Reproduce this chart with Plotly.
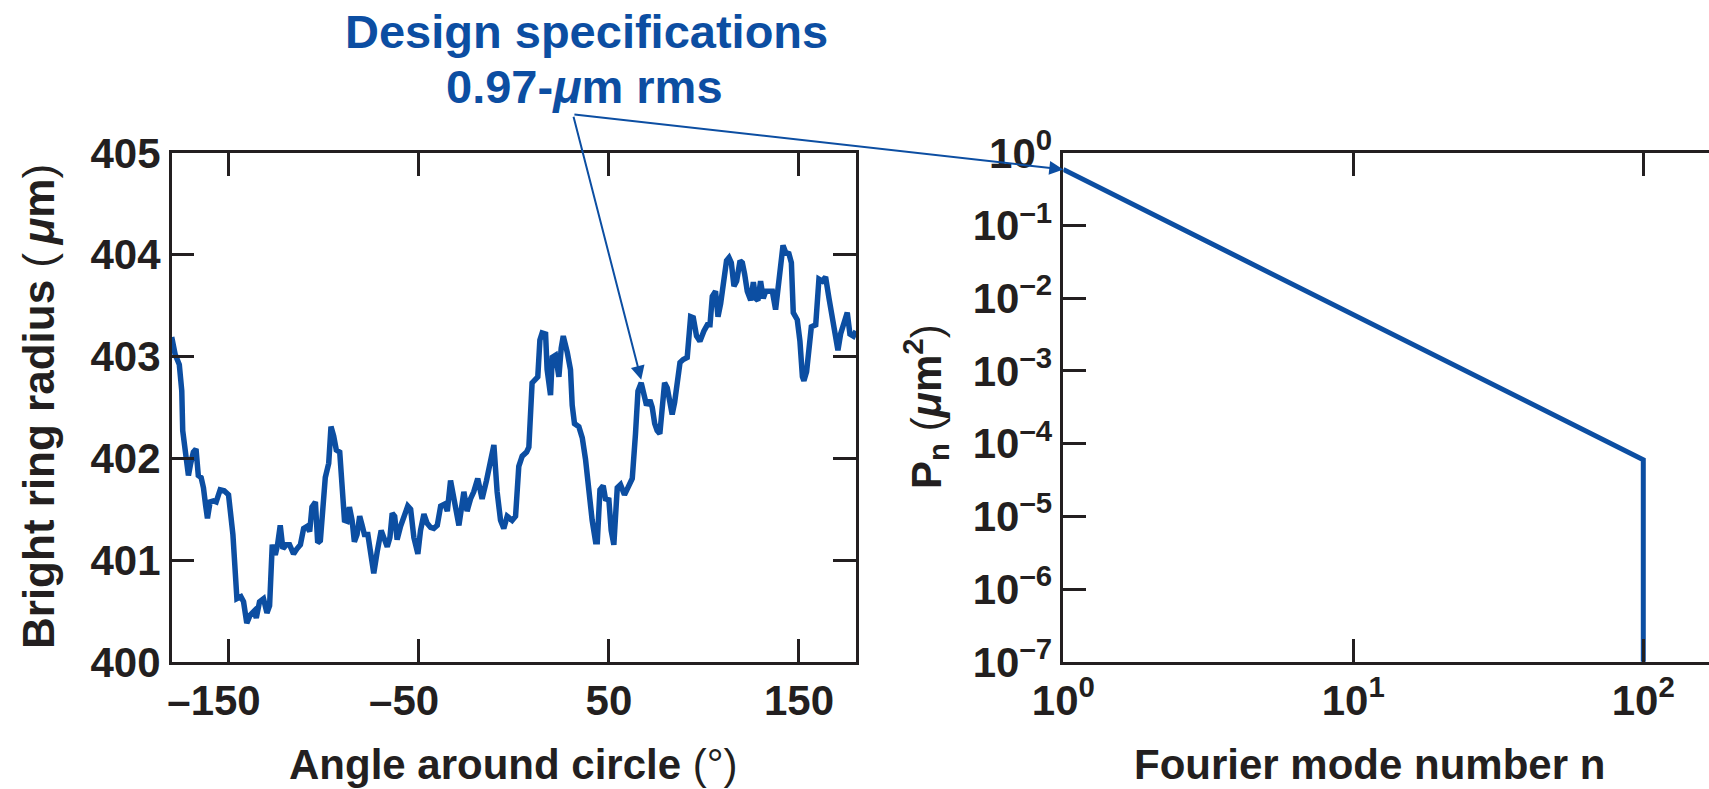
import numpy as np
import plotly.graph_objects as go

# Bright ring radius measured around the capsule limb
angle_deg = [
    -180.0, -178.2, -176.0, -174.7, -174.2, -172.4, -171.2, -170.0, -168.6, -167.2,
    -166.0, -164.5, -163.3, -162.1, -161.2, -159.8, -158.0, -156.6, -154.5, -152.4,
    -150.1, -147.8, -145.7, -143.6, -142.2, -140.5, -138.7, -136.6, -135.5, -133.8,
    -131.7, -129.9, -128.5, -127.1, -125.5, -124.3, -122.9, -121.5, -119.7, -118.0,
    -115.9, -114.1, -112.3, -110.6, -108.8, -107.4, -106.2, -104.4, -103.2, -101.8,
    -100.4, -99.2, -97.4, -96.2, -94.8, -93.4, -91.6, -90.4, -89.1, -87.7,
    -86.5, -85.1, -83.9, -82.5, -81.1, -79.8, -78.6, -76.8, -75.1, -73.7,
    -71.9, -69.8, -68.4, -66.6, -65.2, -64.0, -62.7, -61.4, -59.6, -57.8,
    -55.8, -54.3, -52.6, -50.5, -49.1, -47.3, -45.6, -43.8, -42.1, -40.3,
    -38.5, -36.4, -35.0, -33.3, -31.2, -28.9, -26.3, -24.6, -22.8, -21.1,
    -19.0, -16.7, -14.4, -12.3, -10.5, -8.8, -7.0, -5.3, -3.5, -0.9,
    0.9, 2.6, 4.4, 6.7, 7.9, 9.6, 11.4, 12.6, 13.7, 14.9,
    16.7, 17.5, 19.3, 20.2, 21.9, 23.7, 24.9, 26.0, 28.1, 29.8,
    30.7, 31.9, 34.2, 36.0, 37.7, 39.5, 41.2, 43.0, 43.9, 45.3,
    47.0, 48.2, 50.0, 51.2, 52.6, 54.4, 56.1, 58.2, 60.5, 62.3,
    64.0, 65.3, 67.0, 68.4, 69.8, 71.6, 72.8, 74.1, 75.4, 76.8,
    78.1, 79.3, 80.7, 82.1, 83.3, 84.6, 86.0, 87.4, 89.1, 91.2,
    93.0, 94.4, 96.1, 97.9, 100.0, 101.8, 103.2, 104.4, 106.1, 107.4,
    108.8, 110.5, 111.9, 113.2, 114.4, 115.8, 117.2, 119.0, 120.2, 121.4,
    122.8, 124.6, 126.0, 127.2, 128.4, 129.8, 131.2, 132.5, 134.2, 136.0,
    137.7, 139.0, 140.4, 141.6, 143.0, 144.7, 146.0, 147.0, 149.1, 150.5,
    151.8, 152.6, 154.0, 155.3, 156.5, 158.8, 160.5, 162.3, 164.0, 165.8,
    167.5, 168.8, 170.5, 171.9, 173.7, 175.4, 176.8, 178.6, 180.0,
]
radius_um = [
    403.19, 403.02, 402.92, 402.66, 402.27, 402.02, 401.83, 401.95, 402.06, 402.09,
    401.83, 401.81, 401.71, 401.53, 401.41, 401.57, 401.58, 401.57, 401.69, 401.68,
    401.64, 401.25, 400.62, 400.64, 400.59, 400.38, 400.46, 400.50, 400.43, 400.59,
    400.62, 400.48, 400.55, 401.15, 401.05, 401.15, 401.34, 401.11, 401.15, 401.15,
    401.06, 401.11, 401.15, 401.31, 401.33, 401.28, 401.52, 401.57, 401.17, 401.19,
    401.60, 401.81, 401.95, 402.31, 402.22, 402.08, 402.06, 401.64, 401.39, 401.38,
    401.52, 401.39, 401.18, 401.25, 401.43, 401.34, 401.25, 401.25, 401.04, 400.87,
    401.08, 401.29, 401.22, 401.13, 401.22, 401.46, 401.43, 401.20, 401.33, 401.43,
    401.53, 401.50, 401.22, 401.06, 401.29, 401.45, 401.36, 401.32, 401.31, 401.34,
    401.53, 401.55, 401.48, 401.78, 401.60, 401.34, 401.67, 401.48, 401.60, 401.67,
    401.80, 401.60, 401.78, 401.95, 402.13, 401.67, 401.39, 401.31, 401.43, 401.39,
    401.43, 401.92, 402.02, 402.06, 402.11, 402.74, 402.78, 402.80, 403.16, 403.23,
    403.22, 402.87, 402.62, 402.99, 403.01, 402.80, 403.08, 403.20, 403.04, 402.87,
    402.52, 402.34, 402.31, 402.20, 401.99, 401.67, 401.39, 401.18, 401.18, 401.69,
    401.73, 401.60, 401.59, 401.29, 401.15, 401.71, 401.74, 401.64, 401.74, 401.80,
    402.24, 402.66, 402.74, 402.62, 402.52, 402.57, 402.50, 402.34, 402.27, 402.24,
    402.46, 402.74, 402.69, 402.55, 402.43, 402.55, 402.73, 402.94, 402.97, 402.99,
    403.39, 403.38, 403.20, 403.15, 403.25, 403.31, 403.31, 403.59, 403.64, 403.39,
    403.52, 403.76, 403.94, 403.97, 403.92, 403.69, 403.74, 403.94, 403.92, 403.81,
    403.64, 403.55, 403.73, 403.57, 403.55, 403.74, 403.57, 403.64, 403.64, 403.64,
    403.46, 403.67, 403.92, 404.09, 404.02, 404.01, 403.92, 403.43, 403.36, 403.15,
    402.80, 402.76, 402.85, 403.04, 403.29, 403.31, 403.76, 403.74, 403.78, 403.57,
    403.41, 403.22, 403.06, 403.22, 403.32, 403.43, 403.22, 403.20, 403.25,
]

# Modal power spectrum of the design specification
mode_n = [1, 2, 3, 4, 5, 7, 10, 15, 20, 30, 50, 70, 100, 100]
power_um2 = [0.59, 0.148, 0.066, 0.037, 0.0237, 0.0121, 0.0060, 0.0027,
             0.00152, 0.00069, 0.00024, 0.000122, 0.000060, 1e-8]

angle_ticks = [-150, -50, 50, 150]
angle_ticktext = ["\u2013150\u2002\u2009", "\u201350\u2002\u2009", "50", "150"]
radius_ticks = [400, 401, 402, 403, 404, 405]
mode_ticks = [1, 10, 100]
mode_ticktext = ["10<sup>0</sup>", "10<sup>1</sup>", "10<sup>2</sup>"]
power_exps = [0, -1, -2, -3, -4, -5, -6, -7]
power_ticks = [10.0 ** e for e in power_exps]
power_ticktext = ["10<sup>%s</sup>" % (str(e).replace("-", "\u2013")) for e in power_exps]

W, H = 1709, 789
BLUE = "#0c4ea2"
INK = "#231f20"
FONT = "Liberation Sans, Arial, Helvetica, sans-serif"


def fx(px):
    return px / W


def fy(px):
    return 1 - px / H


plot_top, plot_bottom = 152.8, 661.8

fig = go.Figure()
fig.add_trace(go.Scatter(x=angle_deg, y=radius_um, mode="lines",
                         line=dict(color=BLUE, width=5.5), xaxis="x", yaxis="y",
                         showlegend=False))
fig.add_trace(go.Scatter(x=mode_n, y=power_um2, mode="lines",
                         line=dict(color=BLUE, width=5), xaxis="x2", yaxis="y2",
                         showlegend=False))

tickfont = dict(family=FONT, size=42, color=INK, weight="bold")
common = dict(ticks="inside", ticklen=23, tickwidth=2.5, tickcolor=INK,
              showline=True, linewidth=2.5, linecolor=INK, showgrid=False,
              zeroline=False, tickfont=tickfont, automargin=False)

fig.update_layout(
    width=W, height=H,
    margin=dict(l=0, r=0, t=0, b=0),
    paper_bgcolor="white", plot_bgcolor="white",
    xaxis=dict(domain=[fx(171.7), fx(856)], range=[-180, 180], anchor="y",
               tickmode="array", tickvals=angle_ticks, ticktext=angle_ticktext,
               mirror="ticks", **common),
    yaxis=dict(domain=[fy(plot_bottom), fy(plot_top)], range=[400, 405], anchor="x",
               tickmode="array", tickvals=radius_ticks, mirror="ticks", **common),
    xaxis2=dict(type="log", domain=[fx(1063.3), 1.0], range=[0, 2.2266], anchor="y2",
                tickmode="array", tickvals=mode_ticks, ticktext=mode_ticktext,
                mirror="ticks", **common),
    yaxis2=dict(type="log", domain=[fy(plot_bottom), fy(plot_top)], range=[-7, 0],
                anchor="x2", tickmode="array", tickvals=power_ticks,
                ticktext=power_ticktext, mirror=False, **common),
    yaxis3=dict(type="log", overlaying="y2", side="right", anchor="free", position=1.0,
                range=[-7, 0], tickmode="array", tickvals=power_ticks, ticks="inside",
                ticklen=15, tickwidth=2.5, tickcolor=INK, showline=False,
                showticklabels=False, showgrid=False, zeroline=False),
)

title_font = dict(family=FONT, size=42, color=INK)
annotations = [
    dict(text="<b>Bright ring radius </b>(\u2009<b><i>\u03bc</i>m</b>)", xref="paper",
         yref="paper", x=fx(38), y=fy(407), textangle=-90, showarrow=False,
         font=dict(family=FONT, size=44, color=INK), xanchor="center", yanchor="middle"),
    dict(text="<b>Angle around circle </b>(\u00b0)", xref="paper", yref="paper",
         x=fx(513), y=fy(764), showarrow=False, font=title_font,
         xanchor="center", yanchor="middle"),
    dict(text="<b>P<sub>n</sub></b> (<b><i>\u03bc</i>m<sup>2</sup></b>)", xref="paper",
         yref="paper", x=fx(925), y=fy(407), textangle=-90, showarrow=False,
         font=title_font, xanchor="center", yanchor="middle"),
    dict(text="<b>Fourier mode number n</b>", xref="paper", yref="paper",
         x=fx(1369), y=fy(764), showarrow=False, font=title_font,
         xanchor="center", yanchor="middle"),
    dict(text="<b>Design specifications</b>", xref="paper", yref="paper",
         x=fx(586), y=fy(32), showarrow=False,
         font=dict(family=FONT, size=47, color=BLUE), xanchor="center", yanchor="middle"),
    dict(text="<b>0.97-<i>\u03bc</i>m rms</b>", xref="paper", yref="paper",
         x=fx(584), y=fy(86), showarrow=False,
         font=dict(family=FONT, size=47, color=BLUE), xanchor="center", yanchor="middle"),
]

# Leader arrows from the label to the profile and to the spectrum
peak_idx = 152
vertex_angle, vertex_radius = 31.2, 405.37
annotations.append(dict(
    text="", x=angle_deg[peak_idx], y=radius_um[peak_idx] + 0.03, xref="x", yref="y",
    ax=vertex_angle, ay=vertex_radius, axref="x", ayref="y",
    showarrow=True, arrowhead=2, arrowsize=1.4, arrowwidth=2, arrowcolor=BLUE,
    standoff=0, startstandoff=0))
annotations.append(dict(
    text="", x=np.log10(mode_n[0]), y=np.log10(power_um2[0]), xref="x2", yref="y2",
    ax=-1.691, ay=0.530, axref="x2", ayref="y2",
    showarrow=True, arrowhead=2, arrowsize=1.4, arrowwidth=2, arrowcolor=BLUE,
    standoff=0, startstandoff=0))

fig.update_layout(annotations=annotations)
fig.write_html("out.html")
